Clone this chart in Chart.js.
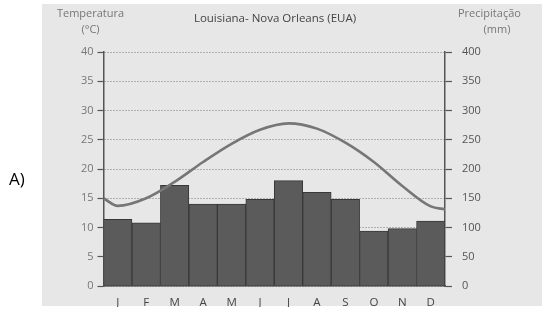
<!DOCTYPE html>
<html>
<head>
<meta charset="utf-8">
<script src="https://cdn.jsdelivr.net/npm/chart.js@4.4.1/dist/chart.umd.min.js"></script>
<style>
html,body{margin:0;padding:0;background:#fff;}
#wrap{position:relative;width:542px;height:313px;overflow:hidden;}
canvas{display:block;}
</style>
</head>
<body>
<div id="wrap"><canvas id="c" width="542" height="313"></canvas></div>
<script>
const months = ['J','F','M','A','M','J','J','A','S','O','N','D'];
const precipitation = [114,108,172,140,140,148,180,160,148,94,98,111];
// temperature curve: month position (0 = start of Jan, 12 = end of Dec) and value in °C
const tempMonthPos = [0,0.5,1.5,2.5,3.5,4.5,5.5,6.5,7.5,8.5,9.5,10.5,11.5,12];
const temperature = [15.0,13.7,15.0,17.8,21.2,24.3,26.7,27.8,26.9,24.5,21.2,17.1,13.6,13.1];
const tempTicks = [0,5,10,15,20,25,30,35,40];
const precTicks = [0,50,100,150,200,250,300,350,400];

const titleText = 'Louisiana- Nova Orleans (EUA)';
const leftTitle = ['Temperatura','(°C)'];
const rightTitle = ['Precipitação','(mm)'];
const panelLabel = 'A)';

const FONT = '"Open Sans", "Noto Sans", sans-serif';

const decor = {
  id:'decor',
  beforeDraw(chart){
    const ctx = chart.ctx;
    ctx.save();
    ctx.fillStyle = '#fff';
    ctx.fillRect(0,0,chart.width,chart.height);
    ctx.fillStyle = '#e7e7e7';
    ctx.fillRect(42,4,chart.width-42,302);
    ctx.restore();
  },
  afterDraw(chart){
    const ctx = chart.ctx;
    ctx.save();
    ctx.textBaseline = 'middle';
    ctx.fillStyle = '#000';
    ctx.font = '17px ' + FONT;
    ctx.textAlign = 'left';
    ctx.fillText(panelLabel, 9, 180);
    ctx.fillStyle = '#444';
    ctx.font = '11.5px ' + FONT;
    ctx.textAlign = 'center';
    ctx.fillText(titleText, 275, 19);
    ctx.fillStyle = '#777';
    ctx.font = '11px ' + FONT;
    ctx.fillText(leftTitle[0], 90.5, 14);
    ctx.fillText(leftTitle[1], 90.5, 30);
    ctx.textAlign = 'left';
    ctx.fillText(rightTitle[0], 458, 14);
    ctx.textAlign = 'center';
    ctx.fillText(rightTitle[1], 497, 30);
    ctx.restore();
  }
};

new Chart(document.getElementById('c'), {
  type:'bar',
  data: {
    labels: months,
    datasets: [
      {
        type:'line',
        label:'Temperatura',
        data: tempMonthPos.map((x,i)=>({x:x, y:temperature[i]})),
        xAxisID:'xt', yAxisID:'yT',
        borderColor:'#767676', borderWidth:2.6,
        pointRadius:0, cubicInterpolationMode:'monotone',
        fill:false, order:0
      },
      {
        type:'bar',
        label:'Precipitação',
        data: precipitation,
        xAxisID:'x', yAxisID:'yP',
        backgroundColor:'#5b5b5b', borderColor:'#383838', borderWidth:1,
        barPercentage:1, categoryPercentage:1, grouped:false, order:1
      }
    ]
  },
  options: {
    responsive:false, animation:false,
    layout:{padding:{left:42, top:52, right:0, bottom:6}},
    plugins:{legend:{display:false}, tooltip:{enabled:false}, title:{display:false}},
    scales:{
      x:{
        type:'category', position:'bottom', offset:true,
        grid:{display:false, drawTicks:false},
        border:{display:true, color:'#444', width:1.5},
        ticks:{color:'#444', font:{family:FONT, size:11.5}, padding:10, maxRotation:0, autoSkip:false},
        afterFit(s){ s.height = 21; }
      },
      xt:{
        type:'linear', position:'bottom', min:0, max:12, offset:false, display:false,
        grid:{offset:false}
      },
      yT:{
        type:'linear', position:'left', min:0, max:40,
        afterBuildTicks(s){ s.ticks = tempTicks.map(v=>({value:v})); },
        grid:{color:'#7a7a7a', lineWidth:1, tickColor:'#555', tickLength:6, tickWidth:1.2},
        border:{display:true, color:'#555', width:1.5, dash:[1,2]},
        ticks:{color:'#777', font:{family:FONT, size:11}, padding:4},
        afterFit(s){ s.width = 61.5; }
      },
      yP:{
        type:'linear', position:'right', min:0, max:400,
        afterBuildTicks(s){ s.ticks = precTicks.map(v=>({value:v})); },
        grid:{drawOnChartArea:false, tickColor:'#555', tickLength:7, tickWidth:1.2},
        border:{display:true, color:'#555', width:1.5},
        ticks:{color:'#555', font:{family:FONT, size:11}, padding:10},
        afterFit(s){ s.width = 97; }
      }
    }
  },
  plugins:[decor]
});
</script>
</body>
</html>
